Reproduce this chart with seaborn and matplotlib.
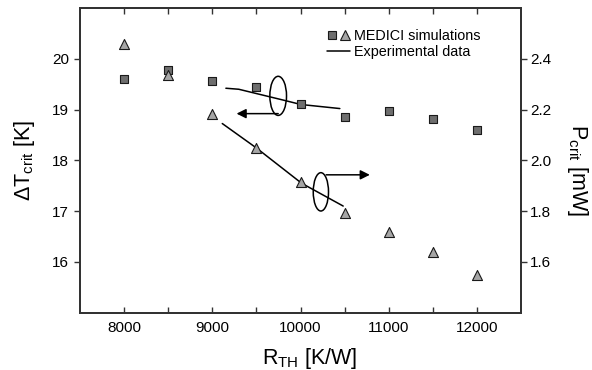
import matplotlib
matplotlib.use("Agg")
import matplotlib.pyplot as plt
import seaborn as sns
from matplotlib.patches import Ellipse
from matplotlib.lines import Line2D
from matplotlib.legend_handler import HandlerTuple

# ---- data ----
r_th = [8000, 8500, 9000, 9500, 10000, 10500, 11000, 11500, 12000]
dt_crit = [19.60, 19.78, 19.57, 19.45, 19.11, 18.85, 18.98, 18.82, 18.60]
p_crit = [2.460, 2.337, 2.182, 2.049, 1.913, 1.793, 1.717, 1.638, 1.549]

exp_dt_r = [9154, 9300, 9820, 10004, 10446]
exp_dt = [19.42, 19.40, 19.18, 19.10, 19.02]
exp_p_r = [9113, 9503, 10012, 10484]
exp_p = [2.145, 2.048, 1.910, 1.820]

x_major = [8000, 9000, 10000, 11000, 12000]
x_minor = [8500, 9500, 10500, 11500]
x_labels = ["8000", "9000", "10000", "11000", "12000"]
y_left_ticks = [16, 17, 18, 19, 20]
y_right_ticks = [1.6, 1.8, 2.0, 2.2, 2.4]
y_right_labels = ["1.6", "1.8", "2.0", "2.2", "2.4"]

legend_labels = ["MEDICI simulations", "Experimental data"]
xlabel = r"R$_{\mathrm{TH}}$ [K/W]"
ylabel_left = r"ΔT$_{\mathrm{crit}}$ [K]"
ylabel_right = r"P$_{\mathrm{crit}}$ [mW]"

# ---- style ----
sns.set_style("ticks")
plt.rcParams["font.family"] = ["Liberation Sans", "DejaVu Sans"]
plt.rcParams["mathtext.fontset"] = "custom"
plt.rcParams["mathtext.rm"] = "Liberation Sans"
plt.rcParams["mathtext.it"] = "Liberation Sans:italic"
plt.rcParams["mathtext.bf"] = "Liberation Sans:bold"
plt.rcParams["text.color"] = "black"
plt.rcParams["axes.labelcolor"] = "black"
plt.rcParams["xtick.color"] = "black"
plt.rcParams["ytick.color"] = "black"

spine_c = "#333333"
sq_color = "#6e6e6e"
tri_color = "#a6a6a6"

fig = plt.figure(figsize=(5.92, 3.70), dpi=100)
ax = fig.add_axes([80 / 592, 1 - 312.7 / 370, 441 / 592, 304.7 / 370])
ax2 = ax.twinx()

sns.scatterplot(x=r_th, y=dt_crit, marker="s", s=40, color=sq_color,
                edgecolor="#1a1a1a", linewidth=0.8, ax=ax, legend=False, zorder=3)
sns.lineplot(x=exp_dt_r, y=exp_dt, color="black", linewidth=1.1, ax=ax,
             sort=False, estimator=None, legend=False, zorder=2)

sns.scatterplot(x=r_th, y=p_crit, marker="^", s=52, color=tri_color,
                edgecolor="#1a1a1a", linewidth=0.8, ax=ax2, legend=False, zorder=3)
sns.lineplot(x=exp_p_r, y=exp_p, color="black", linewidth=1.1, ax=ax2,
             sort=False, estimator=None, legend=False, zorder=2)

# ellipses and arrows (annotations)
ax.add_patch(Ellipse((9747, 19.27), width=189, height=0.77, fill=False,
                     edgecolor="black", linewidth=1.1, zorder=4))
ax.annotate("", xy=(9275, 18.92), xytext=(9747, 18.92),
            arrowprops=dict(arrowstyle="-|>", color="black", lw=1.1,
                            mutation_scale=14, shrinkA=0, shrinkB=0))
ax2.add_patch(Ellipse((10231, 1.876), width=173, height=0.151, fill=False,
                      edgecolor="black", linewidth=1.1, zorder=4))
ax2.annotate("", xy=(10786, 1.943), xytext=(10291, 1.943),
             arrowprops=dict(arrowstyle="-|>", color="black", lw=1.1,
                             mutation_scale=14, shrinkA=0, shrinkB=0))

# axes limits / ticks
ax.set_xlim(7500, 12500)
ax.set_ylim(15, 21)
ax2.set_ylim(1.4, 2.6)
ax.set_xticks(x_major)
ax.set_xticklabels(x_labels)
ax.set_xticks(x_minor, minor=True)
ax.set_yticks(y_left_ticks)
ax2.set_yticks(y_right_ticks)
ax2.set_yticklabels(y_right_labels)

for a in (ax, ax2):
    for s in a.spines.values():
        s.set_visible(True)
        s.set_color(spine_c)
        s.set_linewidth(1.4)

ax.tick_params(axis="x", which="both", direction="in", top=True, bottom=True,
               length=4, width=1, color=spine_c, labelsize=11, pad=6)
ax.tick_params(axis="y", which="both", direction="out", left=True, right=False,
               length=4, width=1, color=spine_c, labelsize=11, pad=4)
ax2.tick_params(axis="y", which="both", direction="out", right=True,
                length=4, width=1, color=spine_c, labelsize=11, pad=2.5)

ax.set_xlabel(xlabel, fontsize=15.5, labelpad=8)
ax.xaxis.label.set_x(0.5215)
ax.set_ylabel(ylabel_left, fontsize=15.5, labelpad=11)
ax2.set_ylabel(ylabel_right, fontsize=15.5, rotation=270, labelpad=28)
ax2.yaxis.label.set_y(0.468)

# legend
h_sq = Line2D([], [], linestyle="none", marker="s", markersize=6.3,
              markerfacecolor=sq_color, markeredgecolor="#1a1a1a", markeredgewidth=0.8)
h_tri = Line2D([], [], linestyle="none", marker="^", markersize=7,
               markerfacecolor=tri_color, markeredgecolor="#1a1a1a", markeredgewidth=0.8)
h_line = Line2D([], [], color="black", linewidth=1.1)
ax.legend([(h_sq, h_tri), h_line], legend_labels,
          handler_map={tuple: HandlerTuple(ndivide=None, pad=0.1)},
          loc="upper left", bbox_to_anchor=(0.560, 0.93), frameon=False,
          fontsize=10.4, handlelength=1.6, handletextpad=0.3, labelspacing=0.15,
          borderpad=0, borderaxespad=0)

fig.savefig("out.png", dpi=100)
